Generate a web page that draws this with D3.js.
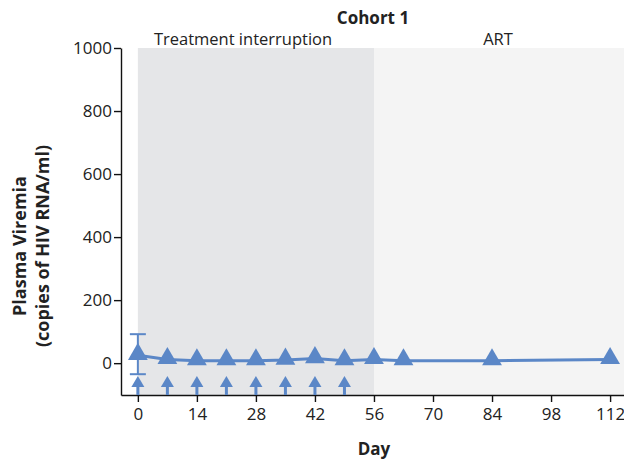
<!DOCTYPE html>
<html>
<head>
<meta charset="utf-8">
<script src="https://cdn.jsdelivr.net/npm/d3@7"></script>
<style>
  body { margin: 0; background: #fff; }
  svg { display: block; font-family: "Open Sans", "Noto Sans", sans-serif; }
</style>
</head>
<body>
<svg id="chart" width="624" height="460"></svg>
<script>
// Cohort 1 plasma viremia by study day
const days = [0, 7, 14, 21, 28, 35, 42, 49, 56, 63, 84, 112];
const viremia = [25, 12, 8, 8, 8, 10, 15, 8, 12, 8, 8, 12];
const errLow = [-35];   // error bar at day 0
const errHigh = [92];
const doseDays = [0, 7, 14, 21, 28, 35, 42, 49];
const phases = [
  { label: "Treatment interruption", start: 0, end: 56, fill: "#e5e6e8" },
  { label: "ART", start: 56, end: 116, fill: "#f4f4f4" }
];
const xTicks = [0, 14, 28, 42, 56, 70, 84, 98, 112];
const yTicks = [0, 200, 400, 600, 800, 1000];

const blue = "#5b87c7";
const ink = "#222";
const svg = d3.select("#chart");
const x = d3.scaleLinear().domain([-4, 115.3]).range([121, 624]);
const y = d3.scaleLinear().domain([-101, 1000]).range([395, 48]);

// phase shading
svg.selectAll("rect.phase").data(phases).join("rect")
  .attr("class", "phase")
  .attr("x", d => x(d.start))
  .attr("width", d => x(Math.min(d.end, 115.3)) - x(d.start))
  .attr("y", y(1000))
  .attr("height", y(-101) - y(1000))
  .attr("fill", d => d.fill);

// phase labels
const labelX = [243, 498];
svg.selectAll("text.phase").data(phases).join("text")
  .attr("class", "phase")
  .attr("x", (d, i) => labelX[i])
  .attr("y", 45)
  .attr("text-anchor", "middle")
  .attr("font-size", 16.5)
  .attr("fill", ink)
  .text(d => d.label);

svg.append("text")
  .attr("x", 373).attr("y", 24)
  .attr("text-anchor", "middle")
  .attr("font-size", 17).attr("font-weight", "bold")
  .attr("fill", ink)
  .text("Cohort 1");

// axes
const yAxis = svg.append("g")
  .attr("transform", `translate(${x(-4)},0)`)
  .call(d3.axisLeft(y).tickValues(yTicks).tickSize(7).tickSizeOuter(0).tickFormat(d3.format("d")));
const xAxis = svg.append("g")
  .attr("transform", `translate(0,${y(-101)})`)
  .call(d3.axisBottom(x).tickValues(xTicks).tickSize(7).tickSizeOuter(0));
[yAxis, xAxis].forEach(a => {
  a.select(".domain").attr("stroke", "#111").attr("stroke-width", 1.4);
  a.selectAll(".tick line").attr("stroke", "#111").attr("stroke-width", 1.4);
  a.selectAll(".tick text").attr("font-size", 17).attr("fill", ink)
    .attr("font-family", "\"Open Sans\", sans-serif");
});
yAxis.selectAll(".tick text").attr("x", -9);
xAxis.selectAll(".tick text").attr("y", 13);

// axis titles
svg.append("text")
  .attr("x", 374).attr("y", 455)
  .attr("text-anchor", "middle")
  .attr("font-size", 17).attr("font-weight", "bold").attr("fill", ink)
  .text("Day");
const yt = svg.append("text")
  .attr("transform", "translate(0,246) rotate(-90)")
  .attr("text-anchor", "middle")
  .attr("font-size", 18).attr("font-weight", "bold").attr("fill", ink);
yt.append("tspan").attr("x", 0).attr("y", 26).text("Plasma Viremia");
yt.append("tspan").attr("x", 0).attr("y", 49).text("(copies of HIV RNA/ml)");

// dosing arrows
const arrows = svg.append("g");
doseDays.forEach(d => {
  arrows.append("line")
    .attr("x1", x(d)).attr("x2", x(d))
    .attr("y1", y(-101)).attr("y2", 384)
    .attr("stroke", blue).attr("stroke-width", 3);
  arrows.append("path")
    .attr("d", `M${x(d) - 6.5},${387} L${x(d) + 6.5},${387} L${x(d)},${376} Z`)
    .attr("fill", blue);
});

// error bar at day 0
svg.append("line")
  .attr("x1", x(0)).attr("x2", x(0))
  .attr("y1", y(errLow[0])).attr("y2", y(errHigh[0]))
  .attr("stroke", blue).attr("stroke-width", 2);
[errLow[0], errHigh[0]].forEach(v => {
  svg.append("line")
    .attr("x1", x(0) - 8).attr("x2", x(0) + 8)
    .attr("y1", y(v)).attr("y2", y(v))
    .attr("stroke", blue).attr("stroke-width", 2);
});

// series line
const pts = days.map((d, i) => ({ d, v: viremia[i] }));
svg.append("path")
  .datum(pts)
  .attr("fill", "none")
  .attr("stroke", blue)
  .attr("stroke-width", 3)
  .attr("d", d3.line().x(p => x(p.d)).y(p => y(p.v)));

// triangle markers
svg.selectAll("path.marker").data(pts).join("path")
  .attr("class", "marker")
  .attr("transform", p => `translate(${x(p.d)},${y(p.v) - 1})`)
  .attr("d", d3.symbol().type(d3.symbolTriangle).size(170))
  .attr("fill", blue);
</script>
</body>
</html>
